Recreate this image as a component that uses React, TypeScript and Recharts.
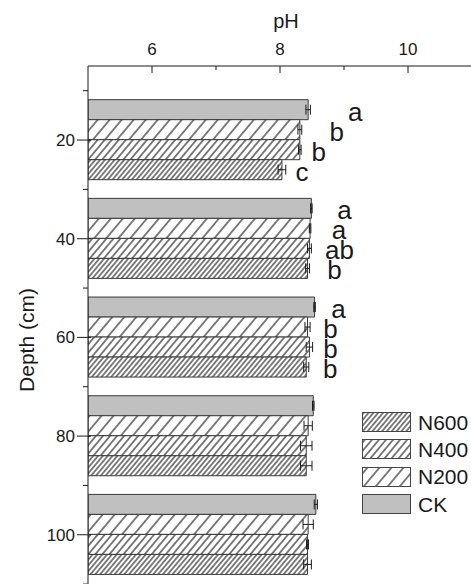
import React from 'react'
import { BarChart, Bar, XAxis, YAxis, ErrorBar, LabelList, Legend } from 'recharts'

// ── data ─────────────────────────────────────────────────────────────────────

const depths = [20, 40, 60, 80, 100]

const ckPH = [8.44, 8.49, 8.54, 8.52, 8.56]
const n200PH = [8.31, 8.47, 8.43, 8.44, 8.44]
const n400PH = [8.31, 8.46, 8.46, 8.41, 8.43]
const n600PH = [8.03, 8.43, 8.41, 8.41, 8.43]

const ckErr = [0.035, 0.012, 0.012, 0.012, 0.025]
const n200Err = [0.03, 0.012, 0.04, 0.065, 0.08]
const n400Err = [0.02, 0.03, 0.05, 0.09, 0.015]
const n600Err = [0.06, 0.03, 0.04, 0.09, 0.06]

const ckLetters = ['a', 'a', 'a', '', '']
const n200Letters = ['b', 'a', 'b', '', '']
const n400Letters = ['b', 'ab', 'b', '', '']
const n600Letters = ['c', 'b', 'b', '', '']

const xTicks = [6, 7, 8, 9, 10]

// letter label nudges (px right of the bar end), hand-placed in the original
const ckDx = [47, 33, 24, 0, 0]
const n200Dx = [37, 29, 23, 0, 0]
const n400Dx = [19, 30, 21, 0, 0]
const n600Dx = [20, 27, 24, 0, 0]

// ── chart setup ──────────────────────────────────────────────────────────────

const FONT = '"Liberation Sans", Arial, sans-serif'
const INK = '#1a1a1a'

const CHART_W = 472
const CHART_H = 594
const X_AXIS_H = 66
const PAD_TOP = 24.7
const PAD_BOTTOM = 9.9
// half of one depth band, used for the minor ticks on the band edges
const HALF_BAND = (CHART_H - X_AXIS_H - PAD_TOP - PAD_BOTTOM) / depths.length / 2

const series = [
  { key: 'CK', values: ckPH, err: ckErr, letters: ckLetters, dx: ckDx, fill: '#c0c0c0' },
  { key: 'N200', values: n200PH, err: n200Err, letters: n200Letters, dx: n200Dx, fill: 'url(#hatch200)' },
  { key: 'N400', values: n400PH, err: n400Err, letters: n400Letters, dx: n400Dx, fill: 'url(#hatch400)' },
  { key: 'N600', values: n600PH, err: n600Err, letters: n600Letters, dx: n600Dx, fill: 'url(#hatch600)' },
]

const rows = depths.map((depth, i) => {
  const row: Record<string, number | string> = { depth }
  for (const s of series) {
    row[s.key] = s.values[i]
    row[s.key + 'Err'] = s.err[i]
    row[s.key + 'Let'] = s.letters[i]
  }
  return row
})

function Hatch({ id, gap }: { id: string; gap: number }) {
  return (
    <pattern id={id} patternUnits="userSpaceOnUse" width={gap} height={gap} patternTransform="rotate(40)">
      <rect width={gap} height={gap} fill="#fff" />
      <line x1={gap / 2} y1={0} x2={gap / 2} y2={gap} stroke={INK} strokeWidth={1.1} />
    </pattern>
  )
}

function XTick(props: any) {
  const { x, y, payload } = props
  const major = payload.value % 2 === 0
  return (
    <g>
      <line x1={x} x2={x} y1={y} y2={y + (major ? 7 : 4)} stroke={INK} />
      {major && (
        <text x={x} y={y - 11} textAnchor="middle" fontSize={17} fontFamily={FONT} fill={INK}>
          {payload.value}
        </text>
      )}
    </g>
  )
}

// depth ticks sit on the band centres; the minor (odd tens) ticks on the band edges
function YTick(props: any) {
  const { x, y, payload, index } = props
  const last = index === depths.length - 1
  return (
    <g>
      <line x1={x - 11} x2={x + 3} y1={y} y2={y} stroke={INK} />
      <line x1={x - 5} x2={x} y1={y - HALF_BAND} y2={y - HALF_BAND} stroke={INK} />
      {last && <line x1={x - 5} x2={x} y1={y + HALF_BAND} y2={y + HALF_BAND} stroke={INK} />}
      <text x={x - 13} y={y} dy="0.35em" textAnchor="end" fontSize={17} fontFamily={FONT} fill={INK}>
        {payload.value}
      </text>
    </g>
  )
}

function PHTitle(props: any) {
  const { viewBox } = props
  return (
    <text x={viewBox.x + viewBox.width / 2 + 6} y={viewBox.y + 28} textAnchor="middle" fontSize={20} fontFamily={FONT} fill={INK}>
      pH
    </text>
  )
}

function DepthTitle(props: any) {
  const { viewBox } = props
  const cx = viewBox.x + 27
  const cy = viewBox.y + viewBox.height / 2 + 10
  return (
    <text x={cx} y={cy} transform={`rotate(-90 ${cx} ${cy})`} dy="0.35em" textAnchor="middle" fontSize={21} fontFamily={FONT} fill={INK}>
      Depth (cm)
    </text>
  )
}

function letterLabel(dx: number[]) {
  return (props: any) => {
    const { x, y, width, height, value, index } = props
    if (!value) return null
    return (
      <text x={x + width + dx[index ?? 0]} y={y + height / 2 + 11} textAnchor="middle" fontSize={26} fontFamily={FONT} fill={INK}>
        {value}
      </text>
    )
  }
}

function LegendBox() {
  return (
    <div style={{ fontFamily: FONT, fontSize: 21, color: INK }}>
      {[...series].reverse().map((s) => (
        <div key={s.key} style={{ display: 'flex', alignItems: 'center', height: 27.3 }}>
          <svg width={50} height={21}>
            <rect x={0.5} y={0.5} width={48} height={19} fill={s.fill} stroke="#444" />
          </svg>
          <span style={{ marginLeft: 6 }}>{s.key}</span>
        </div>
      ))}
    </div>
  )
}

export default function App() {
  return (
    <div style={{ position: 'fixed', left: 0, top: 0, width: 471, height: 584, overflow: 'hidden', background: '#fff' }}>
      <BarChart
        width={CHART_W}
        height={CHART_H}
        data={rows}
        layout="vertical"
        margin={{ top: 0, right: 0, bottom: 0, left: 0 }}
        barGap={0}
        barSize={20}
      >
        <defs>
          <Hatch id="hatch200" gap={9.2} />
          <Hatch id="hatch400" gap={5.4} />
          <Hatch id="hatch600" gap={3.7} />
        </defs>
        <XAxis
          type="number"
          orientation="top"
          domain={[5, 11]}
          ticks={xTicks}
          height={X_AXIS_H}
          tickSize={0}
          tickMargin={0}
          tickLine={false}
          tick={<XTick />}
          axisLine={{ stroke: INK }}
          label={<PHTitle />}
          allowDataOverflow
        />
        <YAxis
          type="category"
          dataKey="depth"
          width={88}
          padding={{ top: PAD_TOP, bottom: PAD_BOTTOM }}
          tickSize={0}
          tickMargin={0}
          tickLine={false}
          tick={<YTick />}
          interval={0}
          axisLine={{ stroke: INK }}
          label={<DepthTitle />}
        />
        <Legend
          layout="vertical"
          align="center"
          verticalAlign="middle"
          content={<LegendBox />}
          wrapperStyle={{ left: 362, top: 409, width: 110 }}
        />
        {series.map((s) => (
          <Bar
            key={s.key}
            dataKey={s.key}
            name={s.key}
            fill={s.fill}
            stroke="#3a3a3a"
            strokeWidth={1}
            isAnimationActive={false}
          >
            <ErrorBar dataKey={s.key + 'Err'} direction="x" width={5} stroke={INK} strokeWidth={1} />
            <LabelList dataKey={s.key + 'Let'} content={letterLabel(s.dx)} />
          </Bar>
        ))}
      </BarChart>
    </div>
  )
}
